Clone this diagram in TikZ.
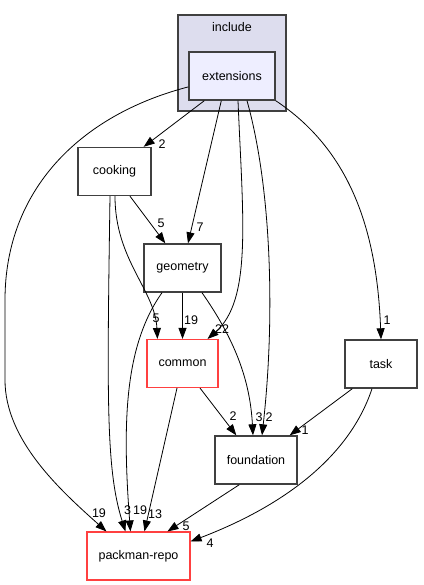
\documentclass[tikz,border=0pt]{standalone}
\usepackage{fontspec}
\setmainfont{Liberation Sans}
\usepackage{xcolor}
\usetikzlibrary{arrows.meta, positioning, calc}
\definecolor{clusterfill}{RGB}{221, 221, 238}
\definecolor{dirfill}{RGB}{238, 238, 255}
\definecolor{borderdark}{RGB}{64, 64, 64}
\definecolor{borderred}{RGB}{255, 64, 64}

\begin{document}
\begin{tikzpicture}[
    x=1pt, y=-1pt,
    dirbox/.style={draw=borderdark, line width=1.4pt, fill=white,
                   minimum height=48pt, inner sep=0pt,
                   font=\fontsize{12.5}{14}\selectfont},
    redbox/.style={dirbox, draw=borderred, line width=1.1pt},
    clusterbox/.style={draw=borderdark, line width=1.4pt, fill=clusterfill,
                   inner sep=0pt},
    dep/.style={draw=black, line width=0.8pt,
                -{Triangle[length=11pt, width=8pt]}},
    num/.style={inner sep=0pt, font=\fontsize{12.5}{14}\selectfont}
]
    \useasboundingbox (0,0) rectangle (423,585);

    % Cluster
    \node[clusterbox, minimum width=108pt, minimum height=96pt] (include) at (232,63) {};
    \node[num] (includelbl) at (232,27) {include};

    % Directories
    \node[dirbox, fill=dirfill, minimum width=86pt] (ext) at (232,76) {extensions};
    \node[dirbox, minimum width=73pt] (cook) at (114.5,171.5) {cooking};
    \node[dirbox, minimum width=77pt] (geo) at (182.5,268) {geometry};
    \node[redbox, minimum width=71pt] (common) at (182.5,363.5) {common};
    \node[dirbox, minimum width=72pt] (task) at (381,364) {task};
    \node[dirbox, minimum width=82pt] (found) at (256,460) {foundation};
    \node[redbox, minimum width=103pt] (pack) at (138.5,556) {packman-repo};

    % Dependencies from extensions
    \draw[dep] (ext.194) .. controls (80,115) and (5,190) .. (5,300) -- (5,380)
        .. controls (5,440) and (60,490) .. ($(pack.north west)+(20,0)$);
    \draw[dep] ($(ext.south west)+(16,0)$) -- ($(cook.north east)+(-8,0)$);
    \draw[dep] ($(ext.south west)+(33,0)$) -- ($(geo.north)+(5.5,0)$);
    \draw[dep] ($(ext.south)+(6,0)$) .. controls (243,220) and (252,300)
        .. ($(common.north east)+(-11,0)$);
    \draw[dep] ($(ext.south)+(15,0)$) .. controls (272,190) and (275,320)
        .. ($(found.north)+(6,0)$);
    \draw[dep] (ext.south east) .. controls (350,150) and (377,230) .. (task.north);

    % Dependencies from cooking
    \draw[dep] ($(cook.south)+(15.5,0)$) -- ($(geo.north west)+(22,0)$);
    \draw[dep] ($(cook.south)+(0.5,0)$) .. controls (115,260) and (155,290)
        .. ($(common.north west)+(11,0)$);
    \draw[dep] ($(cook.south)+(-4.5,0)$) .. controls (107,400) and (106,470)
        .. ($(pack.north west)+(39,0)$);

    % Dependencies from geometry
    \draw[dep] (geo.south) -- (common.north);
    \draw[dep] ($(geo.south)+(19.5,0)$) .. controls (235,340) and (250,380)
        .. ($(found.north)+(-3,0)$);
    \draw[dep] ($(geo.south)+(-20.5,0)$) .. controls (125,345) and (122,420)
        .. ($(pack.north west)+(44,0)$);

    % Dependencies from common, task and foundation
    \draw[dep] ($(common.south)+(17.5,0)$) -- ($(found.north west)+(22,0)$);
    \draw[dep] ($(common.south)+(-5.5,0)$) -- ($(pack.north west)+(58,0)$);
    \draw[dep] ($(task.south west)+(8,0)$) -- ($(found.north east)+(-8,0)$);
    \draw[dep] ($(task.south)+(-9,0)$) .. controls (345,470) and (260,515)
        .. ($(pack.north east)+(0,10)$);
    \draw[dep] ($(found.south west)+(25,0)$) -- ($(pack.north west)+(81,0)$);

    % Counts
    \node[num] (n-ext-pack) at (99,513) {19};
    \node[num] (n-ext-cook) at (162,144) {2};
    \node[num] (n-ext-geo) at (200,227) {7};
    \node[num] (n-ext-common) at (222,329) {22};
    \node[num] (n-ext-found) at (269,417) {2};
    \node[num] (n-ext-task) at (387,320) {1};
    \node[num] (n-cook-geo) at (161,223) {5};
    \node[num] (n-cook-common) at (156,318) {5};
    \node[num] (n-cook-pack) at (127.5,510) {3};
    \node[num] (n-geo-common) at (191,320) {19};
    \node[num] (n-geo-found) at (259,417) {3};
    \node[num] (n-geo-pack) at (140,510) {19};
    \node[num] (n-common-found) at (233,416) {2};
    \node[num] (n-common-pack) at (155,514) {13};
    \node[num] (n-task-found) at (305,430) {1};
    \node[num] (n-task-pack) at (210,543) {4};
    \node[num] (n-found-pack) at (186,526) {5};
\end{tikzpicture}
\end{document}
